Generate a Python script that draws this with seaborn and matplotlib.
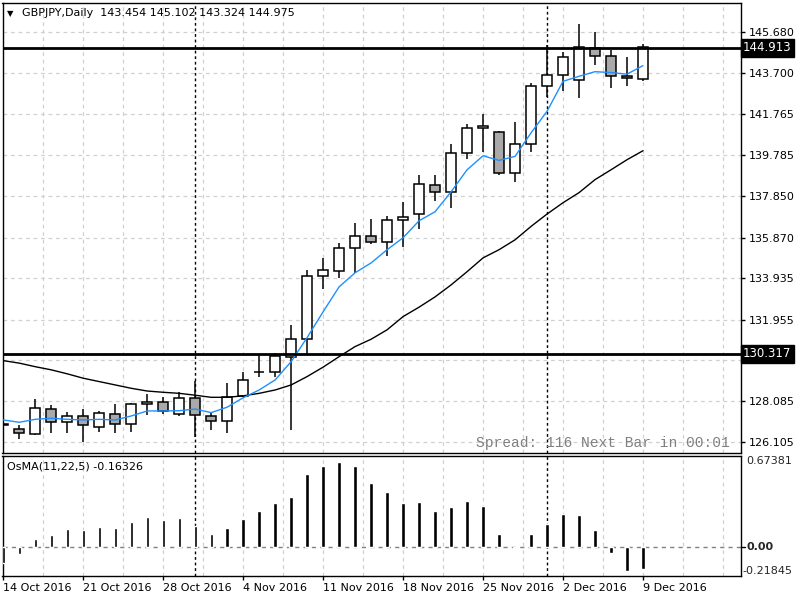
import numpy as np
import matplotlib
matplotlib.use('Agg')
import matplotlib.pyplot as plt
import matplotlib.transforms as mtransforms
import seaborn as sns
import pandas as pd

# ---------------- data ----------------
opens = [127.00, 126.73, 126.49, 127.68, 127.06, 127.35, 126.82, 127.44, 126.96, 127.92,
         128.01, 127.44, 128.21, 127.37, 127.12, 128.33, 129.46, 129.45, 130.16, 131.02,
         134.03, 134.27, 135.37, 135.94, 135.65, 136.70, 136.99, 138.37, 138.04, 139.90,
         141.10, 140.92, 138.95, 140.33, 143.10, 143.63, 143.39, 144.91, 144.53, 143.58,
         143.454]
highs = [127.93, 126.93, 128.17, 127.89, 127.57, 127.69, 127.58, 127.93, 127.97, 128.41,
         128.25, 128.49, 129.05, 127.57, 128.92, 129.48, 130.31, 130.35, 131.70, 134.33,
         134.90, 135.62, 136.57, 136.77, 136.91, 137.58, 138.87, 138.85, 140.35, 141.30,
         141.78, 140.97, 141.40, 143.26, 145.07, 144.70, 146.07, 145.66, 144.83, 144.50,
         145.102]
lows = [126.69, 126.25, 126.44, 126.56, 126.56, 126.11, 126.58, 126.53, 126.61, 127.41,
        127.44, 127.37, 126.37, 126.69, 126.53, 128.25, 129.21, 129.21, 126.69, 130.27,
        133.41, 133.92, 134.17, 135.57, 134.97, 135.40, 136.27, 137.59, 137.26, 139.62,
        139.93, 138.83, 138.50, 139.93, 142.59, 142.88, 142.52, 144.12, 143.00, 143.08,
        143.324]
closes = [126.91, 126.53, 127.73, 127.06, 127.35, 126.92, 127.49, 126.96, 127.93, 128.03,
          127.59, 128.21, 127.39, 127.11, 128.28, 129.06, 129.48, 130.22, 131.02, 134.03,
          134.33, 135.37, 135.94, 135.65, 136.70, 136.85, 138.42, 138.04, 139.90, 141.10,
          141.19, 138.95, 140.33, 143.11, 143.63, 144.48, 144.95, 144.53, 143.58, 143.48,
          144.975]
ma_fast = [127.17, 127.06, 127.20, 127.25, 127.20, 127.17, 127.20, 127.17, 127.36, 127.60,
           127.60, 127.61, 127.69, 127.52, 127.78, 128.23, 128.60, 129.08, 129.95, 131.10,
           132.33, 133.52, 134.19, 134.66, 135.29, 135.86, 136.67, 137.10, 138.05, 139.10,
           139.77, 139.55, 139.74, 140.86, 141.89, 143.32, 143.56, 143.78, 143.74, 143.66,
           144.07]
ma_slow = [130.00, 129.88, 129.71, 129.56, 129.37, 129.16, 129.00, 128.84, 128.68, 128.55,
           128.49, 128.44, 128.35, 128.25, 128.25, 128.32, 128.44, 128.60, 128.84, 129.24,
           129.69, 130.19, 130.67, 131.02, 131.47, 132.10, 132.55, 133.04, 133.61, 134.24,
           134.90, 135.29, 135.76, 136.40, 136.99, 137.53, 138.01, 138.63, 139.10, 139.58,
           140.01]
osma = [-0.124, -0.057, 0.057, 0.086, 0.131, 0.123, 0.146, 0.138, 0.185, 0.220,
        0.198, 0.213, 0.153, 0.094, 0.138, 0.205, 0.265, 0.324, 0.369, 0.540,
        0.599, 0.627, 0.599, 0.473, 0.406, 0.324, 0.332, 0.265, 0.294, 0.339,
        0.302, 0.094, -0.008, 0.094, 0.168, 0.242, 0.235, 0.123, -0.045, -0.181,
        -0.16326]
date_positions = [0, 5, 10, 15, 20, 25, 30, 35, 40]
date_labels = ["14 Oct 2016", "21 Oct 2016", "28 Oct 2016", "4 Nov 2016", "11 Nov 2016",
               "18 Nov 2016", "25 Nov 2016", "2 Dec 2016", "9 Dec 2016"]
price_ticks = [145.680, 143.700, 141.765, 139.785, 137.850, 135.870, 133.935,
               131.955, 130.020, 128.085, 126.105]
price_lines = [144.913, 130.317]
separators = [12, 34]
title_text = "GBPJPY,Daily  143.454 145.102 143.324 144.975"
osma_text = "OsMA(11,22,5) -0.16326"
osma_levels = [0.67381, 0.00, -0.21845]
spread_text = "Spread: 116 Next Bar in 00:01"

# ---------------- style ----------------
sns.set_style('white')
plt.rcParams['font.family'] = ['DejaVu Sans']
plt.rcParams['font.size'] = 8

W, H = 800, 600
fig = plt.figure(figsize=(8, 6), dpi=100)
fig.patch.set_facecolor('white')


def rect(l, t, r, b):
    return [l / W, 1 - b / H, (r - l) / W, (b - t) / H]


ax = fig.add_axes(rect(2.5, 2.5, 740.5, 453))
ax2 = fig.add_axes(rect(2.5, 456, 740.5, 576), sharex=ax)

idx = np.arange(len(opens))
df = pd.DataFrame({'i': idx, 'o': opens, 'h': highs, 'l': lows, 'c': closes,
                   'fast': ma_fast, 'slow': ma_slow, 'osma': osma})

XL = (-0.05, 46.1)
ax.set_xlim(*XL)
ax.set_ylim(125.594, 147.08)
ax2.set_ylim(osma_levels[2], osma_levels[0])

grid_kw = dict(color='#d0d0d0', lw=0.9, linestyle=(0, (3, 3)), zorder=0)
grid_x = np.arange(2.5, 46, 2.5)
for g in grid_x:
    ax.axvline(g, **grid_kw)
    ax2.axvline(g, **grid_kw)
for p in price_ticks:
    ax.axhline(p, **grid_kw)

# candles
bull = df['c'] >= df['o']
ax.vlines(df['i'], df['l'], df['h'], color='black', lw=1.1, zorder=2)
body_bottom = np.minimum(df['o'], df['c'])
body_h = np.abs(df['c'] - df['o'])
ax.bar(df['i'], body_h, bottom=body_bottom, width=0.62,
       color=np.where(bull, 'white', '#a9a9a9'), edgecolor='black', lw=1.1, zorder=3)

# moving averages
sns.lineplot(data=df, x='i', y='slow', ax=ax, color='black', lw=1.0, zorder=4)
sns.lineplot(data=df, x='i', y='fast', ax=ax, color='#1e90ff', lw=1.0, zorder=4)

# horizontal price lines
blend = mtransforms.blended_transform_factory(ax.transAxes, ax.transData)
for p in price_lines:
    ax.axhline(p, color='black', lw=2, zorder=5)

# period separators
for s in separators:
    ax.axvline(s, color='black', lw=1, linestyle=(0, (2, 2)), zorder=1)
    ax2.axvline(s, color='black', lw=1, linestyle=(0, (2, 2)), zorder=1)

# axes / ticks
for a in (ax, ax2):
    for sp in a.spines.values():
        sp.set_color('black')
        sp.set_linewidth(1)
    a.set_xlabel('')
    a.set_ylabel('')

ax.yaxis.tick_right()
ax.set_yticks(price_ticks)
ax.set_yticklabels([f"{p:.3f}" for p in price_ticks])
ax.tick_params(axis='y', right=True, left=False, length=3, width=1, pad=3,
               labelsize=8, colors='black')
ax.tick_params(axis='x', bottom=False, labelbottom=False)

for p in price_lines:
    ax.text(1.0035, p, f"{p:.3f}", transform=blend, ha='left', va='center',
            color='white', fontsize=8.5, zorder=10, clip_on=False,
            bbox=dict(boxstyle='square,pad=0.18', facecolor='black', edgecolor='black'))

# OsMA panel
ax2.axhline(0, color='#808080', lw=1, linestyle=(0, (3, 3)), zorder=1)
ax2.bar(df['i'], df['osma'], width=0.21, color='black', zorder=3)
ax2.set_yticks([])
ax2.set_xticks(date_positions)
ax2.set_xticklabels(date_labels)
for lab in ax2.get_xticklabels():
    lab.set_horizontalalignment('left')
ax2.tick_params(axis='x', bottom=True, length=3, width=1, pad=2, labelsize=8, colors='black')

blend2 = mtransforms.blended_transform_factory(ax2.transAxes, ax2.transData)
ax2.text(1.008, osma_levels[0], f"{osma_levels[0]:.5f}", transform=blend2,
         ha='left', va='top', fontsize=8, clip_on=False)
ax2.text(1.008, osma_levels[1], f"{osma_levels[1]:.2f}", transform=blend2,
         ha='left', va='center', fontsize=8, fontweight='bold', clip_on=False)
ax2.text(1.003, osma_levels[2], f"{osma_levels[2]:.5f}", transform=blend2,
         ha='left', va='bottom', fontsize=8, clip_on=False)
ax2.plot([1.0, 1.006], [osma_levels[1]] * 2, transform=blend2, color='black',
         lw=1, clip_on=False)

# texts
fig.text(21.5 / W, 1 - 13 / H, title_text, ha='left', va='center', fontsize=8, color='black')
fig.text(10.5 / W, 1 - 13.5 / H, '\u25BC', ha='center', va='center', fontsize=6, color='black')
fig.text(7 / W, 1 - 466.5 / H, osma_text, ha='left', va='center', fontsize=8, color='black')
ax.text((730 - 2.5) / 738, (453 - 443) / 450.5, spread_text, transform=ax.transAxes,
        ha='right', va='center', fontsize=10.5, color='#808080',
        family=['Liberation Mono', 'DejaVu Sans Mono'], zorder=6)

fig.savefig('out.png', dpi=100)
